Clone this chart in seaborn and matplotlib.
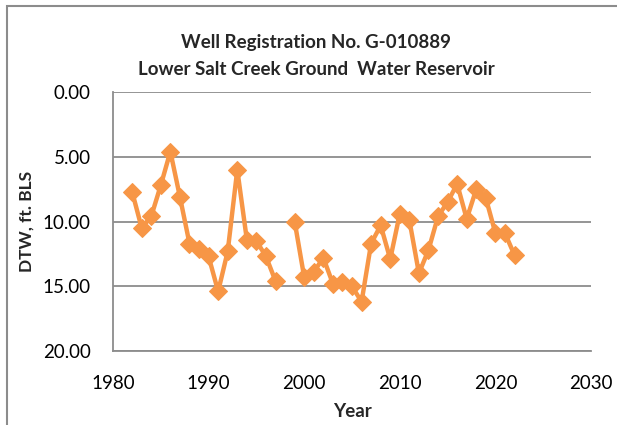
import numpy as np
import pandas as pd
import matplotlib.pyplot as plt
import seaborn as sns
from matplotlib.patches import Rectangle

# ----- Data -----
years_a = [1982, 1983, 1984, 1985, 1986, 1987, 1988, 1989, 1990, 1991,
           1992, 1993, 1994, 1995, 1996, 1997]
dtw_a = [7.7, 10.5, 9.6, 7.2, 4.6, 8.1, 11.7, 12.1, 12.7, 15.4,
         12.3, 6.0, 11.4, 11.5, 12.7, 14.6]

years_b = [1999, 2000, 2001, 2002, 2003, 2004, 2005, 2006, 2007, 2008,
           2009, 2010, 2011, 2012, 2013, 2014, 2015, 2016, 2017, 2018,
           2019, 2020, 2021, 2022]
dtw_b = [10.0, 14.3, 13.9, 12.8, 14.8, 14.7, 15.0, 16.2, 11.7, 10.3,
         12.9, 9.4, 9.9, 14.0, 12.2, 9.6, 8.5, 7.1, 9.8, 7.5,
         8.2, 10.9, 10.9, 12.6]

title = "Well Registration No. G-010889\nLower Salt Creek Ground  Water Reservoir"
# ------------------------------------

df = pd.concat([
    pd.DataFrame({"Year": years_a, "DTW": dtw_a, "seg": 0}),
    pd.DataFrame({"Year": years_b, "DTW": dtw_b, "seg": 1}),
])

sns.set_style("white")
plt.rcParams["font.family"] = ["Lato", "DejaVu Sans"]

orange = "#F79646"
grid_gray = "#8C8C8C"

fig = plt.figure(figsize=(6.17, 4.25), dpi=100)
ax = fig.add_axes([113 / 617, 1 - 351 / 425, (591 - 113) / 617, (351 - 92) / 425])

# two segments: no reading in 1998
for seg, sub in df.groupby("seg"):
    sns.lineplot(data=sub, x="Year", y="DTW", ax=ax, color=orange,
                 linewidth=3.2, marker="D", markersize=9.5,
                 markeredgecolor=orange, estimator=None, sort=False)

ax.set_xlim(1980, 2030)
ax.set_ylim(20, 0)
ax.set_xticks(np.arange(1980, 2031, 10))
ax.set_yticks(np.arange(0, 21, 5))
ax.set_yticklabels([f"{v:.2f}" for v in np.arange(0, 21, 5)])
ax.yaxis.grid(True, color=grid_gray, linewidth=1.3)
ax.set_axisbelow(True)

for s in ["top", "right"]:
    ax.spines[s].set_visible(False)
for s in ["left", "bottom"]:
    ax.spines[s].set_color(grid_gray)
    ax.spines[s].set_linewidth(1.3)

ax.tick_params(axis="both", which="major", labelsize=13.5, labelcolor="black",
               color=grid_gray, length=6, width=1.3, direction="out")
ax.tick_params(axis="x", pad=11)
ax.tick_params(axis="y", pad=10)

ax.set_xlabel("Year", fontsize=13.5, fontweight="bold", labelpad=8)
ax.set_ylabel("DTW, ft. BLS", fontsize=12.5, fontweight="bold")
ax.yaxis.set_label_coords(-0.165, 0.5)
fig.text(316 / 617, 1 - 56 / 425, title, ha="center", va="center",
         fontsize=13.5, fontweight="bold", linespacing=1.65)

# outer chart-area border
fig.patches.append(Rectangle((7 / 617, -0.1), 1.2, 1.0 - 6 / 425 + 0.1,
                             transform=fig.transFigure, fill=False,
                             edgecolor=grid_gray, linewidth=1.5))

fig.savefig("out.png", dpi=100)
